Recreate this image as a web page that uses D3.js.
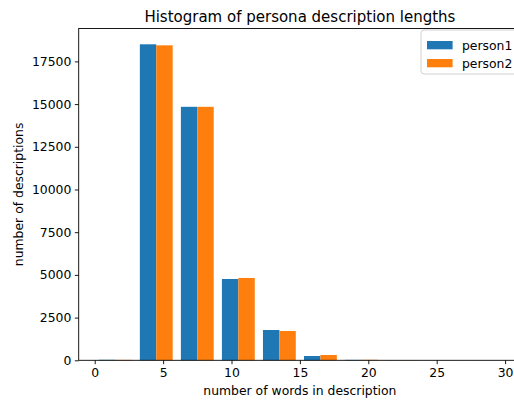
<!DOCTYPE html>
<html>
<head>
<meta charset="utf-8">
<script src="https://cdn.jsdelivr.net/npm/d3@7"></script>
<style>
  body { margin: 0; background: #fff; }
  text { font-family: "DejaVu Sans", sans-serif; fill: #000; }
</style>
</head>
<body>
<div id="chart"></div>
<script>
// bin edges (words per description) and counts per bin
var binEdges = [0, 3, 6, 9, 12, 15, 18, 21, 24, 27, 30];
var person1 = [30, 18500, 14840, 4760, 1774, 252, 25, 8, 3, 2];
var person2 = [25, 18440, 14840, 4820, 1716, 310, 30, 10, 4, 2];
var seriesNames = ["person1", "person2"];
var seriesColors = ["#1f77b4", "#ff7f0e"];
var xTicks = [0, 5, 10, 15, 20, 25, 30];
var yTicks = [0, 2500, 5000, 7500, 10000, 12500, 15000, 17500];

var w = 514, h = 401;
var pLeft = 78.7, pRight = 521.1, pTop = 28.5, pBottom = 360.3;
var fs = 12.4;

var series = [person1, person2];
var rwidth = 0.8;
var nx = series.length;

var bars = [];
series.forEach(function (vals, i) {
  vals.forEach(function (v, j) {
    var b0 = binEdges[j], bw = binEdges[j + 1] - binEdges[j];
    var barW = bw * rwidth / nx;
    var start = b0 + bw * (1 - rwidth) / 2 + i * barW;
    bars.push({ s: i, x0: start, x1: start + barW, v: v });
  });
});

var xmin = d3.min(bars, function (d) { return d.x0; });
var xmax = d3.max(bars, function (d) { return d.x1; });
var xpad = (xmax - xmin) * 0.05;
var ymax = d3.max(bars, function (d) { return d.v; }) * 1.05;

var x = d3.scaleLinear().domain([xmin - xpad, xmax + xpad]).range([pLeft, pRight]);
var y = d3.scaleLinear().domain([0, ymax]).range([pBottom, pTop]);

var svg = d3.select("#chart").append("svg")
  .attr("width", w).attr("height", h);

svg.append("g").selectAll("rect")
  .data(bars)
  .enter()
  .append("rect")
  .attr("x", function (d) { return x(d.x0); })
  .attr("width", function (d) { return x(d.x1) - x(d.x0); })
  .attr("y", function (d) { return y(d.v); })
  .attr("height", function (d) { return pBottom - y(d.v); })
  .attr("fill", function (d) { return seriesColors[d.s]; });

// spines
svg.append("rect")
  .attr("x", pLeft).attr("y", pTop)
  .attr("width", pRight - pLeft).attr("height", pBottom - pTop)
  .attr("fill", "none").attr("stroke", "#000").attr("stroke-width", 0.9);

var xAxis = svg.append("g")
  .attr("transform", "translate(0," + pBottom + ")")
  .call(d3.axisBottom(x).tickValues(xTicks).tickSize(3.9).tickPadding(3.5)
    .tickFormat(d3.format("d")));
var yAxis = svg.append("g")
  .attr("transform", "translate(" + pLeft + ",0)")
  .call(d3.axisLeft(y).tickValues(yTicks).tickSize(3.9).tickPadding(3.5)
    .tickFormat(d3.format("d")));
[xAxis, yAxis].forEach(function (a) {
  a.select(".domain").remove();
  a.selectAll("line").attr("stroke", "#000").attr("stroke-width", 0.9);
  a.selectAll("text").attr("font-size", fs).attr("font-family", "DejaVu Sans").attr("fill", "#000");
});

svg.append("text")
  .attr("x", (pLeft + pRight) / 2).attr("y", 21.5)
  .attr("text-anchor", "middle").attr("font-size", 15)
  .text("Histogram of persona description lengths");

svg.append("text")
  .attr("x", (pLeft + pRight) / 2).attr("y", 395)
  .attr("text-anchor", "middle").attr("font-size", fs)
  .text("number of words in description");

svg.append("text")
  .attr("transform", "translate(23," + (pTop + pBottom) / 2 + ") rotate(-90)")
  .attr("text-anchor", "middle").attr("font-size", fs)
  .text("number of descriptions");

// legend
var lg = svg.append("g").attr("transform", "translate(421,30)");
lg.append("rect")
  .attr("width", 100).attr("height", 44).attr("rx", 3)
  .attr("fill", "#fff").attr("fill-opacity", 0.8)
  .attr("stroke", "#ccc").attr("stroke-width", 0.9);
var items = lg.selectAll("g.item").data(seriesNames).enter()
  .append("g").attr("transform", function (d, i) { return "translate(6," + (11 + i * 18) + ")"; });
items.append("rect").attr("width", 25.6).attr("height", 8.3)
  .attr("fill", function (d, i) { return seriesColors[i]; });
items.append("text").attr("x", 35).attr("y", 8.5).attr("font-size", fs)
  .text(function (d) { return d; });
</script>
</body>
</html>
